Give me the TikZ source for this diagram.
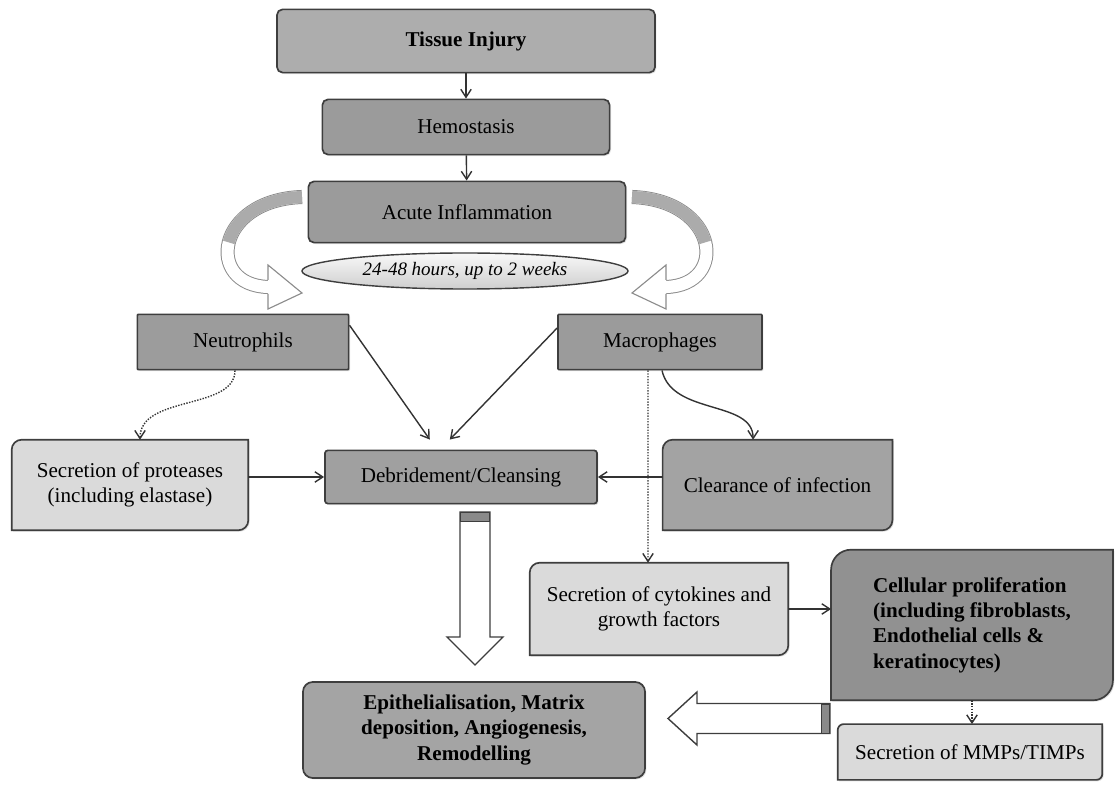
\documentclass[tikz,border=0pt]{standalone}
\usepackage{fontspec}
\setmainfont{Liberation Serif}
\usetikzlibrary{arrows.meta,positioning,shapes.geometric,shadows,backgrounds}

\definecolor{edgegray}{HTML}{3E3E3E}
\definecolor{fillmid}{HTML}{ADADAD}
\definecolor{filldark}{HTML}{9B9B9B}
\definecolor{fillclear}{HTML}{A3A3A3}
\definecolor{fillcell}{HTML}{919191}
\definecolor{filllight}{HTML}{DADADA}
\definecolor{bendgray}{HTML}{8C8C8C}
\definecolor{bandgray}{HTML}{ABABAB}
\definecolor{capgray}{HTML}{8A8A8A}

\newcommand{\boxfont}{\fontsize{15}{18}\selectfont}

\begin{document}
\begin{tikzpicture}[
    x=0.025cm, y=-0.025cm,
    stagebox/.style={draw=edgegray, line width=1.2pt, fill=filldark, rounded corners=4pt,
        inner sep=2pt, align=center, font=\boxfont,
        drop shadow={shadow xshift=1pt, shadow yshift=-1pt, fill=gray!45}},
    cellbox/.style={stagebox, rounded corners=0.6pt},
    cornerbox/.style={inner sep=2pt, align=center, font=\boxfont},
    flow/.style={-{Straight Barb[length=2mm,width=2.6mm]}, line width=1pt, draw=black!80},
    dotflow/.style={flow, densely dotted},
    hollow/.style={draw=edgegray, line width=1pt, fill=white, line join=miter},
    bendout/.style={line width=10pt, draw=bendgray},
    bendin/.style={line width=8.6pt, draw=white}
]
\useasboundingbox (0,0) rectangle (1120,787);

% Main stages
\node[stagebox, fill=fillmid, minimum width=9.45cm, minimum height=1.58cm,
      font=\boxfont\bfseries] (injury) at (466,41) {Tissue Injury};
\node[stagebox, minimum width=7.18cm, minimum height=1.38cm] (hemo) at (466,127) {Hemostasis};
\node[stagebox, minimum width=7.93cm, minimum height=1.53cm] (acute) at (467,212) {Acute Inflammation};
\node[ellipse, draw=edgegray, line width=1pt, top color=gray!5, bottom color=gray!38,
      minimum width=8.15cm, minimum height=0.9cm, inner sep=0pt,
      font=\fontsize{13.5}{16}\selectfont\itshape] (span) at (465,271) {24-48 hours, up to 2 weeks};

% Cells
\node[cellbox, fill=fillcell!90!white, minimum width=5.28cm, minimum height=1.38cm] (neutro) at (243,342) {Neutrophils};
\node[cellbox, minimum width=5.1cm, minimum height=1.38cm] (macro) at (660,342) {Macrophages};

% Second row
\node[cornerbox, minimum width=5.9cm, minimum height=2.25cm] (protease) at (130,485)
      {Secretion of proteases\\(including elastase)};
\node[stagebox, fill=filldark!95!white, minimum width=6.8cm, minimum height=1.33cm,
      rounded corners=2pt] (debride) at (461,477) {Debridement/Cleansing};
\node[cornerbox, minimum width=5.73cm, minimum height=2.25cm] (clear) at (777.5,485)
      {Clearance of infection};

% Lower part
\node[cornerbox, minimum width=6.45cm, minimum height=2.3cm] (cyto) at (659,609)
      {Secretion of cytokines and\\growth factors};
\node[cornerbox, align=left, font=\fontsize{15}{18}\selectfont\bfseries,
      minimum width=7.03cm, minimum height=3.75cm] (cell) at (972,625)
      {Cellular proliferation\\(including fibroblasts,\\Endothelial cells \&\\keratinocytes)};
\node[stagebox, fill=fillmid!95!black, minimum width=8.55cm, minimum height=2.4cm,
      rounded corners=7pt, font=\boxfont\bfseries] (epith) at (474,730)
      {Epithelialisation, Matrix\\deposition, Angiogenesis,\\Remodelling};
\node[cornerbox, minimum width=6.6cm, minimum height=1.38cm] (mmp) at (970,752)
      {Secretion of MMPs/TIMPs};

% Boxes with two round corners
\begin{pgfonlayer}{background}
\foreach \n/\c/\r in {protease/filllight/0.25, clear/fillclear/0.25, cyto/filllight/0.25,
                      cell/fillcell/0.5, mmp/filllight/0.15}
  \draw[draw=edgegray, line width=1.2pt, fill=\c,
        drop shadow={shadow xshift=1pt, shadow yshift=-1pt, fill=gray!45}]
    (\n.south west) -- ([yshift=-\r cm]\n.north west)
    arc[start angle=180, end angle=90, radius=\r cm] -- (\n.north east)
    -- ([yshift=\r cm]\n.south east)
    arc[start angle=0, end angle=-90, radius=\r cm] -- cycle;
\end{pgfonlayer}

% Curved arrows out of the inflammation stage
\draw[bendout] (302,197) .. controls (215,200) and (205,285) .. (268,287) -- (274,287);
\draw[bendin] (302,197) .. controls (215,200) and (205,285) .. (268,287) -- (274,287);
\draw[bendin, draw=bandgray] (302,197) .. controls (258.5,198.5) and (234.25,220.5) .. (228.75,242.4);
\fill[white] (268,265) -- (302,293) -- (268,309) -- cycle;
\draw[bendgray, line width=0.8pt, line join=miter] (268,280) -- (268,265) -- (302,293) -- (268,309) -- (268,294);

\draw[bendout] (632,197) .. controls (719,200) and (729,285) .. (666,287) -- (660,287);
\draw[bendin] (632,197) .. controls (719,200) and (729,285) .. (666,287) -- (660,287);
\draw[bendin, draw=bandgray] (632,197) .. controls (675.5,198.5) and (699.75,220.5) .. (705.25,242.4);
\fill[white] (666,265) -- (632,293) -- (666,309) -- cycle;
\draw[bendgray, line width=0.8pt, line join=miter] (666,280) -- (666,265) -- (632,293) -- (666,309) -- (666,294);

% Connectors
\draw[flow] (injury) -- (hemo);
\draw[flow] (hemo) -- (acute);
\draw[flow] ([yshift=0.42cm]neutro.east) -- ([xshift=-0.78cm,yshift=0.25cm]debride.north);
\draw[flow] ([yshift=0.35cm]macro.west) -- ([xshift=-0.28cm,yshift=0.25cm]debride.north);
\draw[dotflow] ([xshift=-0.2cm]neutro.south) .. controls +(0,40) and +(0,-45) .. ([xshift=0.25cm]protease.north);
\draw[flow] ([xshift=0.05cm]macro.south) .. controls +(10,45) and +(0,-40) .. ([xshift=-0.61cm]clear.north);
\draw[dotflow] ([xshift=-0.3cm]macro.south) -- ([xshift=-0.275cm]cyto.north);
\draw[flow] (protease.east |- debride.west) -- (debride.west);
\draw[flow] (clear.west |- debride.east) -- (debride.east);
\draw[flow] (cyto.east) -- (cyto.east -| cell.west);
\draw[dotflow] (cell.south) -- (cell.south |- mmp.north);

% Hollow block arrows
\draw[hollow] (460,512) -- (490,512) -- (490,637) -- (503,637) -- (475,665)
    -- (447,637) -- (460,637) -- cycle;
\fill[capgray, draw=edgegray, line width=0.6pt] (460.5,512.5) rectangle (489.5,521);
\draw[hollow] (830,703.5) -- (697,703.5) -- (697,692) -- (668,718.5) -- (697,745)
    -- (697,733.5) -- (830,733.5) -- cycle;
\fill[capgray, draw=edgegray, line width=0.6pt] (821,704) rectangle (829.5,733);

\end{tikzpicture}
\end{document}
